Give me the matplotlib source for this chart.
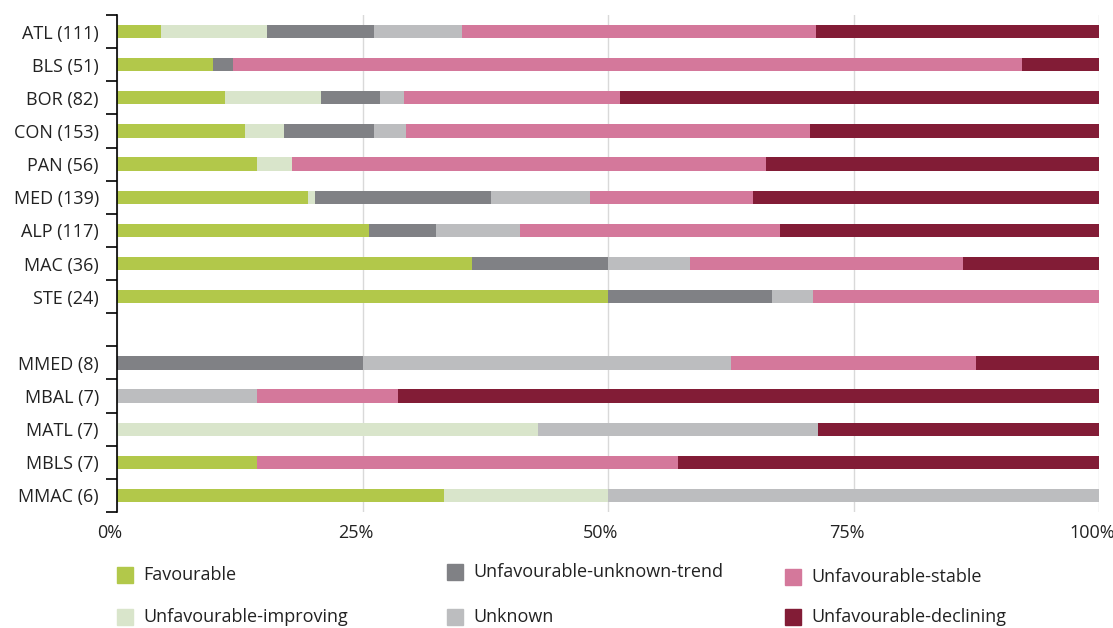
import matplotlib.pyplot as plt
from matplotlib.patches import Rectangle
import matplotlib.transforms as mtransforms
import numpy as np

plt.rcParams['font.family'] = ['Open Sans', 'DejaVu Sans']

# regions, with number of assessments
regions = ['ATL (111)', 'BLS (51)', 'BOR (82)', 'CON (153)', 'PAN (56)',
           'MED (139)', 'ALP (117)', 'MAC (36)', 'STE (24)', '',
           'MMED (8)', 'MBAL (7)', 'MATL (7)', 'MBLS (7)', 'MMAC (6)']

# counts per status (empty row = gap)
favourable = [5, 5, 9, 20, 8, 27, 30, 13, 12, 0, 0, 0, 0, 1, 2]
improving = [12, 0, 8, 6, 2, 1, 0, 0, 0, 0, 0, 0, 3, 0, 1]
unk_trend = [12, 1, 5, 14, 0, 25, 8, 5, 4, 0, 2, 0, 0, 0, 0]
unknown = [10, 0, 2, 5, 0, 14, 10, 3, 1, 0, 3, 1, 2, 0, 3]
stable = [40, 41, 18, 63, 27, 23, 31, 10, 7, 0, 2, 1, 0, 3, 0]
declining = [32, 4, 40, 45, 19, 49, 38, 5, 0, 0, 1, 5, 2, 3, 0]

series = [favourable, unk_trend, stable, improving, unknown, declining]
names = ['Favourable', 'Unfavourable-unknown-trend', 'Unfavourable-stable',
         'Unfavourable-improving', 'Unknown', 'Unfavourable-declining']
colors = ['#b2c84a', '#808185', '#d4789b', '#d9e5cb', '#bcbdbf', '#821c36']

xticks = [0, 25, 50, 75, 100]
xlabels = ['0%', '25%', '50%', '75%', '100%']

# order of stacking from left to right
stack_order = [0, 3, 1, 4, 2, 5]

data = np.array(series, dtype=float)
totals = data.sum(axis=0)
totals[totals == 0] = 1
pct = data / totals * 100

fig = plt.figure(figsize=(11.13, 6.28), dpi=100)
ax = fig.add_axes([117/1113, 1 - 512/628, (1099-117)/1113, (512-15)/628])

y = np.arange(len(regions))
left = np.zeros(len(regions))
for k in stack_order:
    ax.barh(y, pct[k], left=left, height=0.4, color=colors[k], zorder=3)
    left += pct[k]

ax.set_xlim(0, 100)
ax.set_ylim(len(regions) - 0.5, -0.5)
ax.set_xticks(xticks)
ax.set_xticklabels([])
# labels sit a little left of their gridlines
shift = mtransforms.ScaledTranslation(-7/100, -21/100, fig.dpi_scale_trans)
for xv, lab in zip(xticks, xlabels):
    ax.text(xv, 0, lab, transform=ax.get_xaxis_transform() + shift,
            ha='center', va='center', fontsize=13, color='#222222')
ax.set_yticks(y)
ax.set_yticklabels(regions, fontsize=13, color='#222222')
ax.set_yticks(np.arange(len(regions) + 1) - 0.5, minor=True)
ax.tick_params(axis='y', which='major', length=0, pad=13)
ax.tick_params(axis='y', which='minor', length=8, width=1.2, color='black')
ax.tick_params(axis='x', length=0)
ax.grid(axis='x', color='#d9d9d9', linewidth=1, zorder=0)
for s in ['top', 'right', 'bottom']:
    ax.spines[s].set_visible(False)
ax.spines['left'].set_linewidth(1.2)
ax.spines['left'].set_zorder(4)

# legend placed manually in three columns
leg_pos = [(117, 575), (447, 572), (785, 577), (117, 617), (447, 617), (785, 617)]
for i, (px, py) in enumerate(leg_pos):
    fig.patches.append(Rectangle((px/1113, 1 - (py + 8)/628), 16/1113, 16/628,
                                 transform=fig.transFigure, color=colors[i]))
    fig.text((px + 26)/1113, 1 - py/628, names[i], fontsize=13,
             va='center', ha='left', color='#222222')

fig.savefig('out.png', dpi=100)
